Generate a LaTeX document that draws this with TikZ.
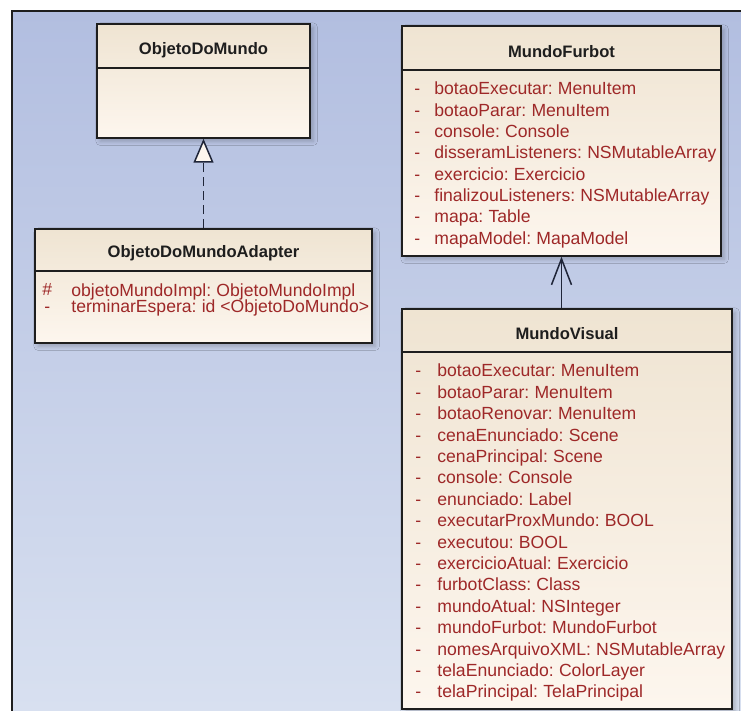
\documentclass[tikz,border=0pt]{standalone}
\usepackage{fontspec}
\setmainfont{Liberation Sans}
\usetikzlibrary{arrows.meta,shadows.blur}

\definecolor{panelTop}{HTML}{B2BEE0}
\definecolor{panelBot}{HTML}{D8E0F0}
\definecolor{boxTop}{HTML}{EFE4D2}
\definecolor{boxBot}{HTML}{FDF6EE}
\definecolor{attrRed}{HTML}{9E2828}
\definecolor{ink}{HTML}{1E1E1E}
\definecolor{edge}{HTML}{1F2538}

\newcommand{\attrib}[2]{#1:\hspace{2.6pt}#2}

\tikzset{
  classbox/.style={draw=ink, line width=0.75pt, top color=boxTop, bottom color=boxBot,
    inner sep=0pt, blur shadow={shadow xshift=1.6pt, shadow yshift=-1.6pt,
    shadow blur steps=4, shadow opacity=22}},
  sepline/.style={draw=ink, line width=0.75pt},
  title/.style={font=\fontsize{8.3}{10}\selectfont\bfseries, text=ink, inner sep=0pt},
  attr/.style={anchor=base west, font=\fontsize{8.8}{10}\selectfont, text=attrRed, inner sep=0pt},
  vis/.style={anchor=base west, font=\fontsize{8.8}{10}\selectfont, text=attrRed, inner sep=0pt},
  realize/.style={draw=edge, line width=0.75pt, dash pattern=on 4.5pt off 2.5pt,
    -{Triangle[length=12pt, width=10pt, fill=boxBot]}},
  assoc/.style={draw=edge, line width=0.75pt, -{Straight Barb[length=13pt, width=10pt]}},
}

\begin{document}
\begin{tikzpicture}[x=0.5pt, y=-0.5pt]
  \useasboundingbox (0,0) rectangle (741,711);

  % diagram canvas
  \fill[top color=panelTop, bottom color=panelBot] (12,11) rectangle (741,711);
  \draw[ink, line width=0.75pt] (12,711) -- (12,11) -- (741,11);

  % ObjetoDoMundo
  \node[classbox, minimum width=106.5pt, minimum height=57pt] (odm) at (203.5,81) {};
  \draw[sepline] ([yshift=-22.5pt]odm.north west) -- ([yshift=-22.5pt]odm.north east);
  \node[title] (odmT) at (203.5,50) {ObjetoDoMundo};

  % ObjetoDoMundoAdapter
  \node[classbox, minimum width=168.5pt, minimum height=57pt] (oda) at (203.5,286) {};
  \draw[sepline] ([yshift=-21.5pt]oda.north west) -- ([yshift=-21.5pt]oda.north east);
  \node[title] (odaT) at (203.5,253) {ObjetoDoMundoAdapter};
  \node[attr] (odaV1) at (42,296) {\#};
  \node[attr] (odaA1) at (71,297) {\attrib{objetoMundoImpl}{ObjetoMundoImpl}};
  \node[vis] (odaV2) at (44,313) {-};
  \node[attr] (odaA2) at (71,313) {\attrib{terminarEspera}{id <ObjetoDoMundo>}};

  % MundoFurbot
  \node[classbox, minimum width=159.5pt, minimum height=115pt] (mf) at (561.5,141) {};
  \draw[sepline] ([yshift=-22.5pt]mf.north west) -- ([yshift=-22.5pt]mf.north east);
  \node[title] (mfT) at (561.5,52) {MundoFurbot};
  \foreach \n/\t [count=\i from 0] in {
      botaoExecutar/MenuItem, botaoParar/MenuItem, console/Console,
      disseramListeners/NSMutableArray, exercicio/Exercicio,
      finalizouListeners/NSMutableArray, mapa/Table, mapaModel/MapaModel} {
    \node[vis] (mfV\i) at (414,{95+21.3*\i}) {-};
    \node[attr] (mfA\i) at (434,{95+21.3*\i}) {\attrib{\n}{\t}};
  }

  % MundoVisual
  \node[classbox, minimum width=165pt, minimum height=200pt] (mv) at (567,509) {};
  \draw[sepline] ([yshift=-22pt]mv.north west) -- ([yshift=-22pt]mv.north east);
  \node[title] (mvT) at (567,334) {MundoVisual};
  \foreach \n/\t [count=\i from 0] in {
      botaoExecutar/MenuItem, botaoParar/MenuItem, botaoRenovar/MenuItem,
      cenaEnunciado/Scene, cenaPrincipal/Scene, console/Console,
      enunciado/Label, executarProxMundo/BOOL, executou/BOOL,
      exercicioAtual/Exercicio, furbotClass/Class, mundoAtual/NSInteger,
      mundoFurbot/MundoFurbot, nomesArquivoXML/NSMutableArray,
      telaEnunciado/ColorLayer, telaPrincipal/TelaPrincipal} {
    \node[vis] (mvV\i) at (415,{377+21.4*\i}) {-};
    \node[attr] (mvA\i) at (437,{377+21.4*\i}) {\attrib{\n}{\t}};
  }

  % relations
  \draw[realize] (oda.north) -- (odm.south);
  \draw[assoc] (mf.south |- mv.north) -- (mf.south);
\end{tikzpicture}
\end{document}
